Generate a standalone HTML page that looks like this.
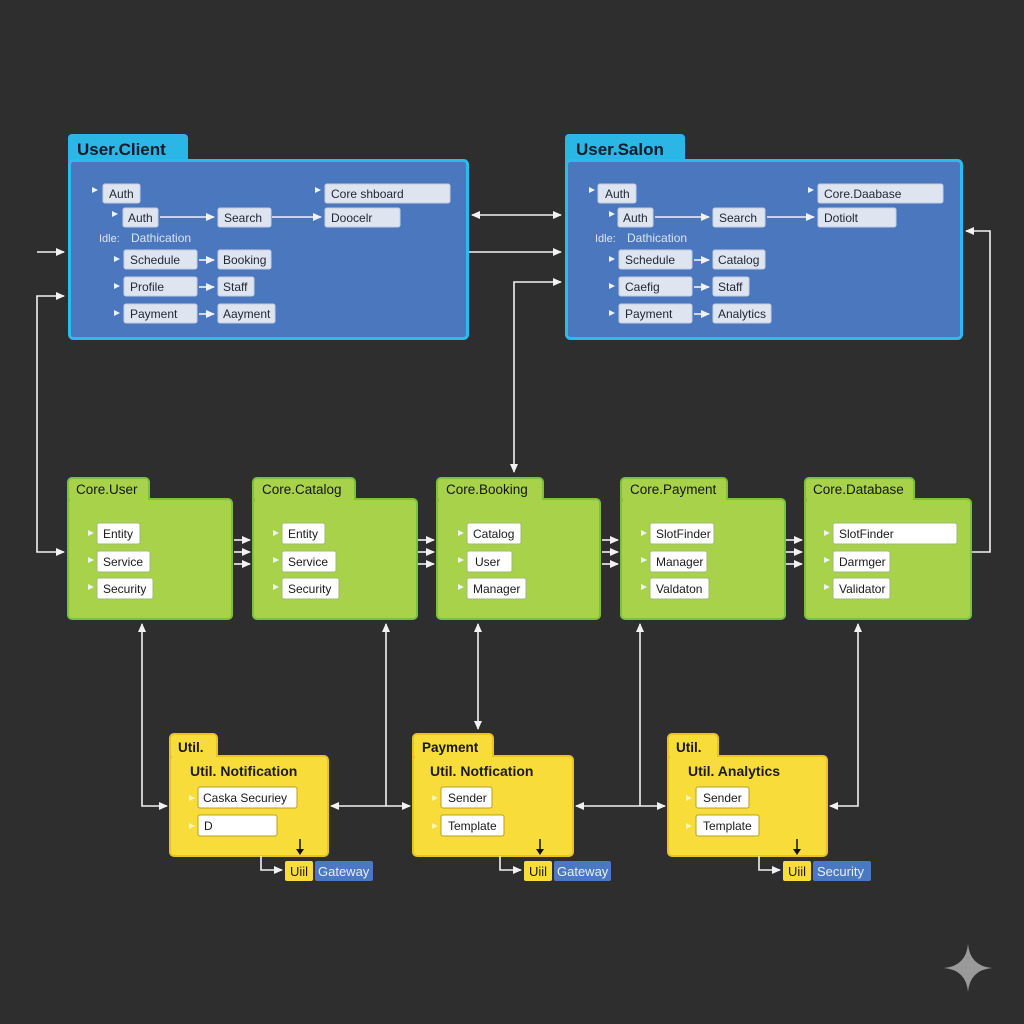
<!DOCTYPE html>
<html><head><meta charset="utf-8"><style>
html,body{margin:0;padding:0;background:#2d2d2d;}
svg{display:block;font-family:"Liberation Sans",sans-serif;}
.p{fill:#dfe5f0;stroke:#c3cde0;stroke-width:1}
.pt{font-size:12px;fill:#1e2533}
.w{fill:#fff;stroke:#9fb87a;stroke-width:1}
.wy{fill:#fff;stroke:#b8a020;stroke-width:1}
.wt{font-size:12px;fill:#1a1a1a}
.tri{fill:#eef2fa}
.ln{stroke:#f2f2f2;stroke-width:1.6;fill:none}
.ttl{font-size:17px;font-weight:bold;fill:#0e1a2a}
.ct{font-size:13.5px;fill:#141414}
.ut{font-size:14px;font-weight:bold;fill:#1a1a1a}
</style></head><body>
<svg width="1024" height="1024" viewBox="0 0 1024 1024">
<rect width="1024" height="1024" fill="#2e2e2e"/>
<defs>
<marker id="a" markerWidth="10" markerHeight="10" refX="8" refY="5" orient="auto-start-reverse" markerUnits="userSpaceOnUse"><path d="M0,1 L9,5 L0,9 Z" fill="#f2f2f2"/></marker>
</defs>

<!-- User.Client -->
<rect x="68" y="134" width="120" height="32" rx="4" fill="#2bb7e6"/>
<rect x="69.5" y="160.5" width="398" height="178" rx="4" fill="#4a77bd" stroke="#2bbbec" stroke-width="3"/>
<text x="77" y="155" class="ttl">User.Client</text>
<g>
<path d="M92,187 l6,3 -6,3z" class="tri"/><rect x="103" y="184" width="37" height="19" rx="2" class="p"/><text x="109" y="198" class="pt">Auth</text>
<path d="M112,211 l6,3 -6,3z" class="tri"/><rect x="123" y="208" width="35" height="19" rx="2" class="p"/><text x="128" y="222" class="pt">Auth</text>
<line x1="160" y1="217" x2="214" y2="217" class="ln" marker-end="url(#a)"/>
<rect x="218" y="208" width="53" height="19" rx="2" class="p"/><text x="224" y="222" class="pt">Search</text>
<line x1="272" y1="217" x2="321" y2="217" class="ln" marker-end="url(#a)"/>
<path d="M315,187 l6,3 -6,3z" class="tri"/><rect x="325" y="184" width="125" height="19" rx="2" class="p"/><text x="331" y="198" class="pt">Core shboard</text>
<rect x="325" y="208" width="75" height="19" rx="2" class="p"/><text x="331" y="222" class="pt">Doocelr</text>
<text x="99" y="242" font-size="11" fill="#dbe4f4">Idle:</text><text x="131" y="242" font-size="12" fill="#dbe4f4">Dathication</text>
<path d="M114,256 l6,3 -6,3z" class="tri"/><rect x="124" y="250" width="73" height="19" rx="2" class="p"/><text x="130" y="264" class="pt">Schedule</text>
<line x1="199" y1="260" x2="214" y2="260" class="ln" marker-end="url(#a)"/>
<rect x="218" y="250" width="53" height="19" rx="2" class="p"/><text x="223" y="264" class="pt">Booking</text>
<path d="M114,283 l6,3 -6,3z" class="tri"/><rect x="124" y="277" width="73" height="19" rx="2" class="p"/><text x="130" y="291" class="pt">Profile</text>
<line x1="199" y1="287" x2="214" y2="287" class="ln" marker-end="url(#a)"/>
<rect x="218" y="277" width="36" height="19" rx="2" class="p"/><text x="223" y="291" class="pt">Staff</text>
<path d="M114,310 l6,3 -6,3z" class="tri"/><rect x="124" y="304" width="73" height="19" rx="2" class="p"/><text x="130" y="318" class="pt">Payment</text>
<line x1="199" y1="314" x2="214" y2="314" class="ln" marker-end="url(#a)"/>
<rect x="218" y="304" width="57" height="19" rx="2" class="p"/><text x="223" y="318" class="pt">Aayment</text>
</g>

<!-- User.Salon -->
<rect x="565" y="134" width="120" height="32" rx="4" fill="#2bb7e6"/>
<rect x="566.5" y="160.5" width="395" height="178" rx="4" fill="#4a77bd" stroke="#2bbbec" stroke-width="3"/>
<text x="576" y="155" class="ttl">User.Salon</text>
<g>
<path d="M589,187 l6,3 -6,3z" class="tri"/><rect x="598" y="184" width="38" height="19" rx="2" class="p"/><text x="605" y="198" class="pt">Auth</text>
<path d="M609,211 l6,3 -6,3z" class="tri"/><rect x="618" y="208" width="35" height="19" rx="2" class="p"/><text x="623" y="222" class="pt">Auth</text>
<line x1="655" y1="217" x2="709" y2="217" class="ln" marker-end="url(#a)"/>
<rect x="713" y="208" width="52" height="19" rx="2" class="p"/><text x="719" y="222" class="pt">Search</text>
<line x1="767" y1="217" x2="814" y2="217" class="ln" marker-end="url(#a)"/>
<path d="M808,187 l6,3 -6,3z" class="tri"/><rect x="818" y="184" width="125" height="19" rx="2" class="p"/><text x="824" y="198" class="pt">Core.Daabase</text>
<rect x="818" y="208" width="78" height="19" rx="2" class="p"/><text x="824" y="222" class="pt">Dotiolt</text>
<text x="595" y="242" font-size="11" fill="#dbe4f4">Idle:</text><text x="627" y="242" font-size="12" fill="#dbe4f4">Dathication</text>
<path d="M609,256 l6,3 -6,3z" class="tri"/><rect x="619" y="250" width="73" height="19" rx="2" class="p"/><text x="625" y="264" class="pt">Schedule</text>
<line x1="694" y1="260" x2="709" y2="260" class="ln" marker-end="url(#a)"/>
<rect x="713" y="250" width="52" height="19" rx="2" class="p"/><text x="718" y="264" class="pt">Catalog</text>
<path d="M609,283 l6,3 -6,3z" class="tri"/><rect x="619" y="277" width="73" height="19" rx="2" class="p"/><text x="625" y="291" class="pt">Caefig</text>
<line x1="694" y1="287" x2="709" y2="287" class="ln" marker-end="url(#a)"/>
<rect x="713" y="277" width="36" height="19" rx="2" class="p"/><text x="718" y="291" class="pt">Staff</text>
<path d="M609,310 l6,3 -6,3z" class="tri"/><rect x="619" y="304" width="73" height="19" rx="2" class="p"/><text x="625" y="318" class="pt">Payment</text>
<line x1="694" y1="314" x2="709" y2="314" class="ln" marker-end="url(#a)"/>
<rect x="713" y="304" width="58" height="19" rx="2" class="p"/><text x="718" y="318" class="pt">Analytics</text>
</g>

<!-- Core boxes -->
<g>
<rect x="68" y="478" width="81" height="30" rx="4" fill="#a9d24b" stroke="#7bc13a" stroke-width="2"/>
<rect x="68" y="499" width="164" height="120" rx="4" fill="#a9d24b" stroke="#7bc13a" stroke-width="2"/>
<rect x="70" y="497" width="78" height="6" fill="#a9d24b"/>
<text x="76" y="494" class="ct">Core.User</text>
<rect x="253" y="478" width="102" height="30" rx="4" fill="#a9d24b" stroke="#7bc13a" stroke-width="2"/>
<rect x="253" y="499" width="164" height="120" rx="4" fill="#a9d24b" stroke="#7bc13a" stroke-width="2"/>
<rect x="255" y="497" width="99" height="6" fill="#a9d24b"/>
<text x="262" y="494" class="ct">Core.Catalog</text>
<rect x="437" y="478" width="106" height="30" rx="4" fill="#a9d24b" stroke="#7bc13a" stroke-width="2"/>
<rect x="437" y="499" width="163" height="120" rx="4" fill="#a9d24b" stroke="#7bc13a" stroke-width="2"/>
<rect x="439" y="497" width="103" height="6" fill="#a9d24b"/>
<text x="446" y="494" class="ct">Core.Booking</text>
<rect x="621" y="478" width="106" height="30" rx="4" fill="#a9d24b" stroke="#7bc13a" stroke-width="2"/>
<rect x="621" y="499" width="164" height="120" rx="4" fill="#a9d24b" stroke="#7bc13a" stroke-width="2"/>
<rect x="623" y="497" width="103" height="6" fill="#a9d24b"/>
<text x="630" y="494" class="ct">Core.Payment</text>
<rect x="805" y="478" width="109" height="30" rx="4" fill="#a9d24b" stroke="#7bc13a" stroke-width="2"/>
<rect x="805" y="499" width="166" height="120" rx="4" fill="#a9d24b" stroke="#7bc13a" stroke-width="2"/>
<rect x="807" y="497" width="106" height="6" fill="#a9d24b"/>
<text x="813" y="494" class="ct">Core.Database</text>
</g>
<g>
<path d="M88,530 l6,3 -6,3z" class="tri"/><rect x="97" y="523" width="43" height="21" rx="2" class="w"/><text x="103" y="538" class="wt">Entity</text>
<path d="M88,557 l6,3 -6,3z" class="tri"/><rect x="97" y="551" width="53" height="21" rx="2" class="w"/><text x="103" y="566" class="wt">Service</text>
<path d="M88,584 l6,3 -6,3z" class="tri"/><rect x="97" y="578" width="56" height="21" rx="2" class="w"/><text x="103" y="593" class="wt">Security</text>

<path d="M273,530 l6,3 -6,3z" class="tri"/><rect x="282" y="523" width="43" height="21" rx="2" class="w"/><text x="288" y="538" class="wt">Entity</text>
<path d="M273,557 l6,3 -6,3z" class="tri"/><rect x="282" y="551" width="54" height="21" rx="2" class="w"/><text x="288" y="566" class="wt">Service</text>
<path d="M273,584 l6,3 -6,3z" class="tri"/><rect x="282" y="578" width="57" height="21" rx="2" class="w"/><text x="288" y="593" class="wt">Security</text>

<path d="M458,530 l6,3 -6,3z" class="tri"/><rect x="467" y="523" width="54" height="21" rx="2" class="w"/><text x="473" y="538" class="wt">Catalog</text>
<path d="M458,557 l6,3 -6,3z" class="tri"/><rect x="467" y="551" width="45" height="21" rx="2" class="w"/><text x="475" y="566" class="wt">User</text>
<path d="M458,584 l6,3 -6,3z" class="tri"/><rect x="467" y="578" width="59" height="21" rx="2" class="w"/><text x="473" y="593" class="wt">Manager</text>

<path d="M641,530 l6,3 -6,3z" class="tri"/><rect x="650" y="523" width="64" height="21" rx="2" class="w"/><text x="656" y="538" class="wt">SlotFinder</text>
<path d="M641,557 l6,3 -6,3z" class="tri"/><rect x="650" y="551" width="57" height="21" rx="2" class="w"/><text x="656" y="566" class="wt">Manager</text>
<path d="M641,584 l6,3 -6,3z" class="tri"/><rect x="650" y="578" width="59" height="21" rx="2" class="w"/><text x="656" y="593" class="wt">Valdaton</text>

<path d="M824,530 l6,3 -6,3z" class="tri"/><rect x="833" y="523" width="124" height="21" rx="2" class="w"/><text x="839" y="538" class="wt">SlotFinder</text>
<path d="M824,557 l6,3 -6,3z" class="tri"/><rect x="833" y="551" width="57" height="21" rx="2" class="w"/><text x="839" y="566" class="wt">Darmger</text>
<path d="M824,584 l6,3 -6,3z" class="tri"/><rect x="833" y="578" width="57" height="21" rx="2" class="w"/><text x="839" y="593" class="wt">Validator</text>
</g>

<!-- triple arrows -->
<g class="ln" marker-end="url(#a)">
<line x1="234" y1="540" x2="250" y2="540"/><line x1="234" y1="552" x2="250" y2="552"/><line x1="234" y1="564" x2="250" y2="564"/>
<line x1="418" y1="540" x2="434" y2="540"/><line x1="418" y1="552" x2="434" y2="552"/><line x1="418" y1="564" x2="434" y2="564"/>
<line x1="602" y1="540" x2="618" y2="540"/><line x1="602" y1="552" x2="618" y2="552"/><line x1="602" y1="564" x2="618" y2="564"/>
<line x1="786" y1="540" x2="802" y2="540"/><line x1="786" y1="552" x2="802" y2="552"/><line x1="786" y1="564" x2="802" y2="564"/>
</g>

<!-- Util boxes -->
<g>
<rect x="170" y="734" width="47" height="30" rx="4" fill="#f8dc3a" stroke="#e8c51e" stroke-width="2"/>
<rect x="170" y="756" width="158" height="100" rx="4" fill="#f8dc3a" stroke="#e8c51e" stroke-width="2"/>
<rect x="172" y="754" width="44" height="6" fill="#f8dc3a"/>
<text x="178" y="752" class="ct" font-weight="bold">Util.</text>
<text x="190" y="776" class="ut">Util. Notification</text>
<path d="M189,795 l6,3 -6,3z" fill="#fff6b0"/><rect x="198" y="787" width="99" height="21" rx="2" class="wy"/><text x="203" y="802" class="wt">Caska Securiey</text>
<path d="M189,823 l6,3 -6,3z" fill="#fff6b0"/><rect x="198" y="815" width="79" height="21" rx="2" class="wy"/><text x="204" y="830" class="wt">D</text>

<rect x="413" y="734" width="80" height="30" rx="4" fill="#f8dc3a" stroke="#e8c51e" stroke-width="2"/>
<rect x="413" y="756" width="160" height="100" rx="4" fill="#f8dc3a" stroke="#e8c51e" stroke-width="2"/>
<rect x="415" y="754" width="77" height="6" fill="#f8dc3a"/>
<text x="422" y="752" class="ct" font-weight="bold">Payment</text>
<text x="430" y="776" class="ut">Util. Notfication</text>
<path d="M432,795 l6,3 -6,3z" fill="#fff6b0"/><rect x="441" y="787" width="51" height="21" rx="2" class="wy"/><text x="448" y="802" class="wt">Sender</text>
<path d="M432,823 l6,3 -6,3z" fill="#fff6b0"/><rect x="441" y="815" width="63" height="21" rx="2" class="wy"/><text x="448" y="830" class="wt">Template</text>

<rect x="668" y="734" width="50" height="30" rx="4" fill="#f8dc3a" stroke="#e8c51e" stroke-width="2"/>
<rect x="668" y="756" width="159" height="100" rx="4" fill="#f8dc3a" stroke="#e8c51e" stroke-width="2"/>
<rect x="670" y="754" width="47" height="6" fill="#f8dc3a"/>
<text x="676" y="752" class="ct" font-weight="bold">Util.</text>
<text x="688" y="776" class="ut">Util. Analytics</text>
<path d="M686,795 l6,3 -6,3z" fill="#fff6b0"/><rect x="696" y="787" width="53" height="21" rx="2" class="wy"/><text x="703" y="802" class="wt">Sender</text>
<path d="M686,823 l6,3 -6,3z" fill="#fff6b0"/><rect x="696" y="815" width="63" height="21" rx="2" class="wy"/><text x="703" y="830" class="wt">Template</text>
</g>
<g stroke="#111" stroke-width="1.5" fill="none">
<line x1="300" y1="839" x2="300" y2="852"/><line x1="540" y1="839" x2="540" y2="852"/><line x1="797" y1="839" x2="797" y2="852"/>
</g>
<g fill="#111">
<path d="M296,849 l4,6 4,-6z"/><path d="M536,849 l4,6 4,-6z"/><path d="M793,849 l4,6 4,-6z"/>
</g>
<g class="ln" marker-end="url(#a)">
<polyline points="261,856 261,870 282,870"/>
<polyline points="500,856 500,870 521,870"/>
<polyline points="759,856 759,870 780,870"/>
</g>
<g font-size="13">
<rect x="285" y="861" width="28" height="20" rx="2" fill="#f8dc3a"/><text x="290" y="876" fill="#1a1a1a">Uiil</text>
<rect x="315" y="861" width="58" height="20" rx="2" fill="#4b78c2"/><text x="318" y="876" fill="#e8eef8">Gateway</text>
<rect x="524" y="861" width="28" height="20" rx="2" fill="#f8dc3a"/><text x="529" y="876" fill="#1a1a1a">Uiil</text>
<rect x="554" y="861" width="57" height="20" rx="2" fill="#4b78c2"/><text x="557" y="876" fill="#e8eef8">Gateway</text>
<rect x="783" y="861" width="28" height="20" rx="2" fill="#f8dc3a"/><text x="788" y="876" fill="#1a1a1a">Uiil</text>
<rect x="813" y="861" width="58" height="20" rx="2" fill="#4b78c2"/><text x="817" y="876" fill="#e8eef8">Security</text>
</g>

<!-- connectors -->
<g class="ln">
<line x1="37" y1="252" x2="64" y2="252" marker-end="url(#a)"/>
<polyline points="64,296 37,296 37,552 64,552" marker-start="url(#a)" marker-end="url(#a)"/>
<line x1="472" y1="215" x2="561" y2="215" marker-start="url(#a)" marker-end="url(#a)"/>
<line x1="469" y1="252" x2="561" y2="252" marker-end="url(#a)"/>
<polyline points="561,282 514,282 514,472" marker-start="url(#a)" marker-end="url(#a)"/>
<polyline points="972,552 990,552 990,231 966,231" marker-end="url(#a)"/>
<polyline points="142,624 142,806 167,806" marker-start="url(#a)" marker-end="url(#a)"/>
<line x1="386" y1="624" x2="386" y2="806" marker-start="url(#a)"/>
<line x1="331" y1="806" x2="410" y2="806" marker-start="url(#a)" marker-end="url(#a)"/>
<line x1="478" y1="624" x2="478" y2="729" marker-start="url(#a)" marker-end="url(#a)"/>
<line x1="640" y1="624" x2="640" y2="806" marker-start="url(#a)"/>
<line x1="576" y1="806" x2="665" y2="806" marker-start="url(#a)" marker-end="url(#a)"/>
<polyline points="858,624 858,806 830,806" marker-start="url(#a)" marker-end="url(#a)"/>
</g>

<!-- sparkle -->
<path d="M968,944 Q970,966 992,968 Q970,970 968,992 Q966,970 944,968 Q966,966 968,944Z" fill="#9a9a9a"/>
</svg>
</body></html>
